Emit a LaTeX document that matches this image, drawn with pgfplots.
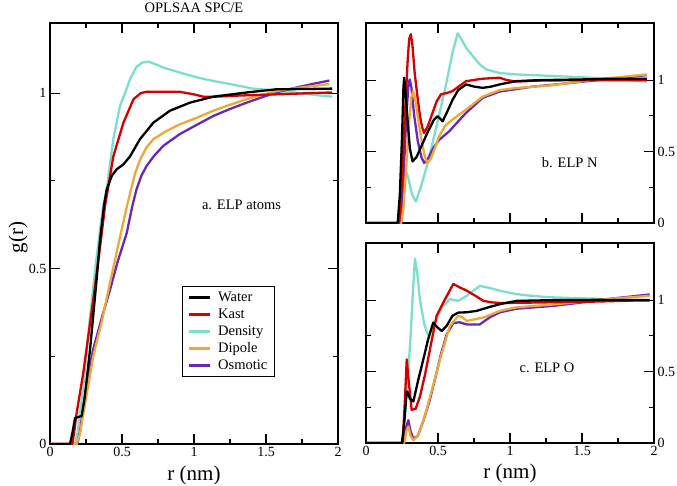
\documentclass[border=0pt]{standalone}
\usepackage{fontspec}
\setmainfont{Liberation Serif}
\usepackage{pgfplots}
\pgfplotsset{compat=1.18}
\definecolor{cWater}{RGB}{0,0,0}
\definecolor{cKast}{RGB}{215,0,0}
\definecolor{cDens}{RGB}{125,222,205}
\definecolor{cDip}{RGB}{238,168,55}
\definecolor{cOsm}{RGB}{105,40,185}
\newcommand{\tickfont}{\fontsize{14bp}{16bp}\selectfont}
\newcommand{\labfont}{\fontsize{21bp}{24bp}\selectfont}
\newcommand{\txtfont}{\fontsize{14.5bp}{17bp}\selectfont}
\pgfplotsset{
  rdf/.style={
    scale only axis, xmin=0, xmax=2, ymin=0,
    xtick={0,0.5,1,1.5,2}, minor x tick num=1, minor y tick num=1,
    ytick={0,0.5,1},
    tick align=inside, major tick length=10bp, minor tick length=5bp,
    axis line style={line width=1.2bp}, every tick/.style={line width=1.1bp, black},
    tick label style={font=\tickfont},
    /pgf/number format/assume math mode=true,
    label style={font=\labfont},
    every axis plot/.append style={line width=2.3bp, line join=round},
  },
}
\begin{document}
\begin{tikzpicture}
\useasboundingbox (0,0) rectangle (677bp,-486bp);
% ---------- panel a ----------
\begin{axis}[rdf, at={(50bp,-444bp)}, anchor=south west, width=288bp, height=421bp, ymax=1.2,
  xlabel={r (nm)}, ylabel={g(r)},
  xlabel style={at={(axis description cs:0.5,0)}, anchor=center, yshift=-31bp},
  ylabel style={at={(axis description cs:-0.111,0.49)}, anchor=center},
  every axis title shift=0pt,
  title={OPLSAA SPC/E}, title style={font=\txtfont, at={(axis description cs:0.5,1)}, anchor=center, yshift=15bp},
  legend cell align=left,
  legend style={at={(axis description cs:0.458,0.375)}, anchor=north west, font=\txtfont, line width=1.2bp, draw=black, inner xsep=5bp, inner ysep=3bp, row sep=2bp},
  legend image code/.code={\draw[#1, line width=3bp] (0bp,0bp) -- (21bp,0bp); \path (26bp,0bp);},
]
\addlegendimage{cWater}\addlegendentry{Water}
\addlegendimage{cKast}\addlegendentry{Kast}
\addlegendimage{cDens}\addlegendentry{Density}
\addlegendimage{cDip}\addlegendentry{Dipole}
\addlegendimage{cOsm}\addlegendentry{Osmotic}
\addplot[cDens, forget plot] coordinates {(0,0)(0.175,0)(0.19,0.03)(0.21,0.09)(0.24,0.20)(0.28,0.37)(0.32,0.52)(0.35,0.62)(0.37,0.68)(0.394,0.726)(0.44,0.87)(0.486,0.964)(0.53,1.01)(0.556,1.04)(0.6,1.075)(0.64,1.087)(0.683,1.09)(0.73,1.083)(0.787,1.073)(0.9,1.059)(1.02,1.045)(1.13,1.035)(1.25,1.026)(1.41,1.013)(1.5,1.01)(1.6,1.006)(1.7,1.002)(1.8,0.997)(1.88,0.993)(1.96,0.99)};
\addplot[cOsm, forget plot] coordinates {(0,0)(0.19,0)(0.21,0.04)(0.24,0.13)(0.27,0.21)(0.30,0.27)(0.36,0.36)(0.417,0.44)(0.47,0.52)(0.532,0.60)(0.57,0.675)(0.60,0.725)(0.635,0.765)(0.67,0.792)(0.72,0.82)(0.787,0.85)(0.9,0.883)(1.02,0.91)(1.134,0.935)(1.25,0.955)(1.366,0.973)(1.47,0.988)(1.57,1.002)(1.7,1.015)(1.82,1.026)(1.94,1.036)};
\addplot[cDip, forget plot] coordinates {(0,0)(0.185,0)(0.208,0.03)(0.25,0.13)(0.30,0.25)(0.36,0.35)(0.417,0.46)(0.486,0.59)(0.53,0.67)(0.556,0.715)(0.59,0.77)(0.625,0.81)(0.67,0.845)(0.718,0.869)(0.8,0.89)(0.9,0.911)(1.02,0.93)(1.134,0.95)(1.25,0.967)(1.366,0.983)(1.47,0.995)(1.57,1.006)(1.7,1.014)(1.82,1.02)(1.94,1.026)};
\addplot[cKast, forget plot] coordinates {(0,0)(0.155,0)(0.17,0.04)(0.185,0.088)(0.23,0.2)(0.30,0.41)(0.35,0.57)(0.382,0.678)(0.44,0.82)(0.51,0.916)(0.58,0.983)(0.63,1.0)(0.67,1.004)(0.8,1.004)(0.9,1.004)(0.995,0.997)(1.065,0.99)(1.15,0.99)(1.3,0.993)(1.45,0.995)(1.6,0.997)(1.8,1.0)(1.96,1.002)};
\addplot[cWater, forget plot] coordinates {(0,0)(0.139,0)(0.155,0.03)(0.174,0.074)(0.22,0.08)(0.24,0.13)(0.278,0.269)(0.324,0.47)(0.347,0.58)(0.375,0.68)(0.394,0.726)(0.43,0.765)(0.463,0.783)(0.51,0.797)(0.556,0.82)(0.625,0.869)(0.718,0.916)(0.833,0.95)(0.972,0.973)(1.134,0.99)(1.366,1.002)(1.57,1.011)(1.8,1.012)(1.96,1.013)};
\node[font=\txtfont] at (axis cs:1.33,0.683) {a. ELP atoms};
\end{axis}
% ---------- panel b ----------
\begin{axis}[rdf, at={(366bp,-223bp)}, anchor=south west, width=288bp, height=200bp, ymax=1.4,
  xticklabels={}, yticklabel pos=right]
\addplot[cDens] coordinates {(0,0)(0.235,0)(0.25,0.2)(0.27,0.38)(0.29,0.33)(0.32,0.2)(0.346,0.15)(0.38,0.25)(0.42,0.39)(0.462,0.56)(0.5,0.72)(0.532,0.864)(0.56,0.99)(0.6,1.19)(0.636,1.328)(0.66,1.29)(0.7,1.22)(0.741,1.169)(0.79,1.11)(0.834,1.075)(0.927,1.05)(1.043,1.04)(1.275,1.03)(1.5,1.02)(1.7,1.01)(1.95,0.99)};
\addplot[cOsm] coordinates {(0,0)(0.24,0)(0.26,0.3)(0.28,0.75)(0.296,0.98)(0.304,1.005)(0.315,0.95)(0.335,0.75)(0.36,0.57)(0.385,0.46)(0.404,0.42)(0.43,0.45)(0.47,0.53)(0.509,0.583)(0.578,0.642)(0.63,0.7)(0.695,0.771)(0.81,0.876)(0.927,0.92)(1.16,0.955)(1.3,0.968)(1.51,0.99)(1.7,1.01)(1.95,1.035)};
\addplot[cDip] coordinates {(0,0)(0.245,0)(0.26,0.1)(0.28,0.4)(0.3,0.72)(0.315,0.88)(0.328,0.923)(0.34,0.88)(0.36,0.74)(0.385,0.58)(0.41,0.46)(0.427,0.42)(0.45,0.45)(0.48,0.53)(0.509,0.61)(0.55,0.68)(0.6,0.724)(0.695,0.794)(0.81,0.885)(0.927,0.93)(1.04,0.945)(1.275,0.963)(1.51,0.993)(1.7,1.015)(1.95,1.04)};
\addplot[cKast] coordinates {(0,0)(0.23,0)(0.25,0.3)(0.27,0.75)(0.29,1.15)(0.3,1.29)(0.311,1.321)(0.322,1.25)(0.338,1.05)(0.357,0.888)(0.375,0.75)(0.39,0.67)(0.404,0.63)(0.43,0.68)(0.462,0.771)(0.49,0.85)(0.52,0.9)(0.56,0.91)(0.6,0.923)(0.65,0.96)(0.695,0.993)(0.81,1.01)(0.927,1.017)(0.98,1.0)(1.043,0.99)(1.2,0.997)(1.5,1.0)(1.95,1.0)};
\addplot[cWater] coordinates {(0,0)(0.22,0)(0.235,0.2)(0.25,0.6)(0.26,0.95)(0.265,1.017)(0.272,0.95)(0.29,0.7)(0.305,0.52)(0.323,0.431)(0.35,0.46)(0.39,0.55)(0.43,0.64)(0.47,0.72)(0.497,0.747)(0.515,0.73)(0.532,0.712)(0.56,0.77)(0.6,0.86)(0.64,0.93)(0.695,0.97)(0.75,0.955)(0.81,0.946)(0.87,0.955)(0.927,0.97)(1.043,0.993)(1.2,1.0)(1.5,1.005)(1.7,1.01)(1.95,1.01)};
\node[font=\txtfont] at (axis cs:1.415,0.42) {b. ELP N};
\end{axis}
% ---------- panel c ----------
\begin{axis}[rdf, at={(366bp,-443bp)}, anchor=south west, width=288bp, height=200bp, ymax=1.4,
  yticklabel pos=right, xlabel={r (nm)},
  xlabel style={at={(axis description cs:0.5,0)}, anchor=center, yshift=-30bp}]
\addplot[cDens] coordinates {(0,0)(0.255,0)(0.27,0.2)(0.29,0.45)(0.31,0.75)(0.325,1.05)(0.34,1.289)(0.355,1.2)(0.375,1.0)(0.405,0.83)(0.433,0.749)(0.46,0.8)(0.49,0.866)(0.53,0.95)(0.583,1.007)(0.641,0.995)(0.7,1.03)(0.75,1.07)(0.79,1.10)(0.86,1.085)(0.93,1.066)(1.046,1.042)(1.15,1.03)(1.28,1.02)(1.6,1.01)(1.97,0.995)};
\addplot[cOsm] coordinates {(0,0)(0.26,0)(0.275,0.1)(0.294,0.16)(0.31,0.08)(0.33,0.03)(0.36,0.05)(0.4,0.16)(0.44,0.29)(0.48,0.45)(0.52,0.62)(0.56,0.76)(0.606,0.84)(0.65,0.845)(0.7,0.83)(0.79,0.83)(0.86,0.88)(0.93,0.915)(1.046,0.94)(1.3,0.96)(1.51,0.985)(1.7,1.01)(1.97,1.04)};
\addplot[cDip] coordinates {(0,0)(0.265,0)(0.28,0.08)(0.294,0.115)(0.31,0.05)(0.329,0.02)(0.36,0.05)(0.39,0.13)(0.42,0.232)(0.46,0.38)(0.514,0.585)(0.55,0.71)(0.583,0.82)(0.641,0.89)(0.67,0.88)(0.70,0.855)(0.815,0.878)(0.93,0.925)(1.046,0.95)(1.3,0.97)(1.51,0.99)(1.7,1.01)(1.97,1.03)};
\addplot[cKast] coordinates {(0,0)(0.255,0)(0.27,0.3)(0.283,0.585)(0.295,0.45)(0.317,0.232)(0.345,0.24)(0.375,0.326)(0.41,0.48)(0.444,0.655)(0.49,0.89)(0.549,1.007)(0.606,1.113)(0.65,1.09)(0.70,1.066)(0.76,1.03)(0.815,0.995)(0.87,0.985)(0.93,0.98)(1.1,0.982)(1.28,0.985)(1.6,0.99)(1.97,1.0)};
\addplot[cWater] coordinates {(0,0)(0.25,0)(0.268,0.17)(0.28,0.33)(0.287,0.361)(0.305,0.31)(0.329,0.291)(0.36,0.43)(0.398,0.585)(0.43,0.72)(0.467,0.843)(0.495,0.81)(0.526,0.784)(0.56,0.82)(0.6,0.89)(0.641,0.913)(0.7,0.915)(0.769,0.925)(0.85,0.95)(0.93,0.972)(1.046,0.995)(1.3,1.0)(1.6,1.002)(1.97,1.0)};
\node[font=\txtfont] at (axis cs:1.257,0.528) {c. ELP O};
\end{axis}
\end{tikzpicture}
\end{document}
